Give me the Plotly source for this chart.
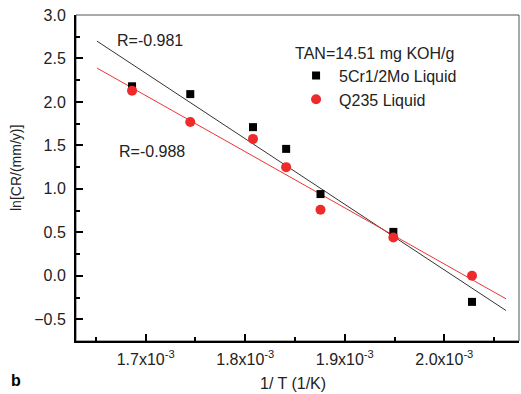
import plotly.graph_objects as go

# Inverse temperature (1/K) of each test
inv_t = [1.6863e-3, 1.7448e-3, 1.8078e-3, 1.8411e-3, 1.8756e-3, 1.9488e-3, 2.0278e-3]
# ln of corrosion rate, mm/y
ln_cr_5cr = [2.18, 2.09, 1.71, 1.46, 0.94, 0.505, -0.30]
ln_cr_q235 = [2.13, 1.77, 1.575, 1.25, 0.76, 0.44, 0.00]

# Linear fit lines (end points)
fit_x = [1.651e-3, 2.062e-3]
fit_5cr = [2.70, -0.40]
fit_q235 = [2.39, -0.265]

x_tickvals = [1.7e-3, 1.8e-3, 1.9e-3, 2.0e-3]
x_ticktext = ["1.7x10<sup>-3</sup>", "1.8x10<sup>-3</sup>", "1.9x10<sup>-3</sup>", "2.0x10<sup>-3</sup>"]
y_tickvals = [-0.5, 0.0, 0.5, 1.0, 1.5, 2.0, 2.5, 3.0]

font_family = "Liberation Sans, Arial, sans-serif"
text_color = "#222222"

fig = go.Figure()
fig.add_trace(go.Scatter(x=fit_x, y=fit_5cr, mode="lines",
                         line=dict(color="#333333", width=1), showlegend=False))
fig.add_trace(go.Scatter(x=fit_x, y=fit_q235, mode="lines",
                         line=dict(color="#ee3333", width=1), showlegend=False))
fig.add_trace(go.Scatter(x=inv_t, y=ln_cr_5cr, mode="markers", name="5Cr1/2Mo Liquid",
                         marker=dict(symbol="square", size=8, color="black")))
fig.add_trace(go.Scatter(x=inv_t, y=ln_cr_q235, mode="markers", name="Q235 Liquid",
                         marker=dict(symbol="circle", size=10, color="#ee2a2a")))

# correlation coefficients
fig.add_annotation(x=1.704e-3, y=2.71, text="R=-0.981", showarrow=False,
                   font=dict(size=16, color=text_color))
fig.add_annotation(x=1.706e-3, y=1.435, text="R=-0.988", showarrow=False,
                   font=dict(size=16, color=text_color))

# axis titles
fig.add_annotation(x=0, y=0.5, xref="paper", yref="paper", xanchor="center", yanchor="middle",
                   xshift=-60, yshift=10, textangle=-90, text="ln[CR/(mm/y)]", showarrow=False,
                   font=dict(size=14, color=text_color))
fig.add_annotation(x=0.5, y=0, xref="paper", yref="paper", xanchor="center", yanchor="middle",
                   xshift=-5, yshift=-42, text="1/ T (1/K)", showarrow=False,
                   font=dict(size=16, color=text_color))
# panel label
fig.add_annotation(x=0, y=0, xref="paper", yref="paper", xanchor="left", yanchor="middle",
                   xshift=-67, yshift=-39, text="<b>b</b>", showarrow=False,
                   font=dict(size=16, color="black"))

# thin frame on top and right
fig.add_shape(type="rect", xref="paper", yref="paper", x0=0, y0=0, x1=1, y1=1,
              line=dict(color="#555555", width=1), layer="below")

axis_common = dict(
    showgrid=False, zeroline=False, showline=True, linecolor="black", linewidth=2,
    ticks="inside", ticklen=7, tickwidth=1.5, tickcolor="black",
    tickfont=dict(size=16, color=text_color, family=font_family),
)

fig.update_xaxes(range=[1.63e-3, 2.075e-3], tickvals=x_tickvals, ticktext=x_ticktext,
                 minor=dict(ticks="inside", ticklen=4, tickwidth=1.5, tickcolor="black", dtick=0.05e-3),
                 ticklabelstandoff=3, **axis_common)
fig.update_yaxes(range=[-0.75, 3.0], tickvals=y_tickvals, tickformat=".1f",
                 minor=dict(ticks="inside", ticklen=4, tickwidth=1.5, tickcolor="black", dtick=0.25),
                 ticklabelstandoff=5, **axis_common)

fig.update_layout(
    width=521, height=394,
    margin=dict(l=76, r=2, t=15, b=53),
    paper_bgcolor="white", plot_bgcolor="white",
    font=dict(family=font_family, color=text_color),
    legend=dict(x=0.49, y=0.93, xanchor="left", yanchor="top", itemwidth=36,
                title=dict(text="TAN=14.51 mg KOH/g", font=dict(size=16)),
                font=dict(size=16), bgcolor="rgba(0,0,0,0)", tracegroupgap=0),
)

fig.write_html("out.html")
